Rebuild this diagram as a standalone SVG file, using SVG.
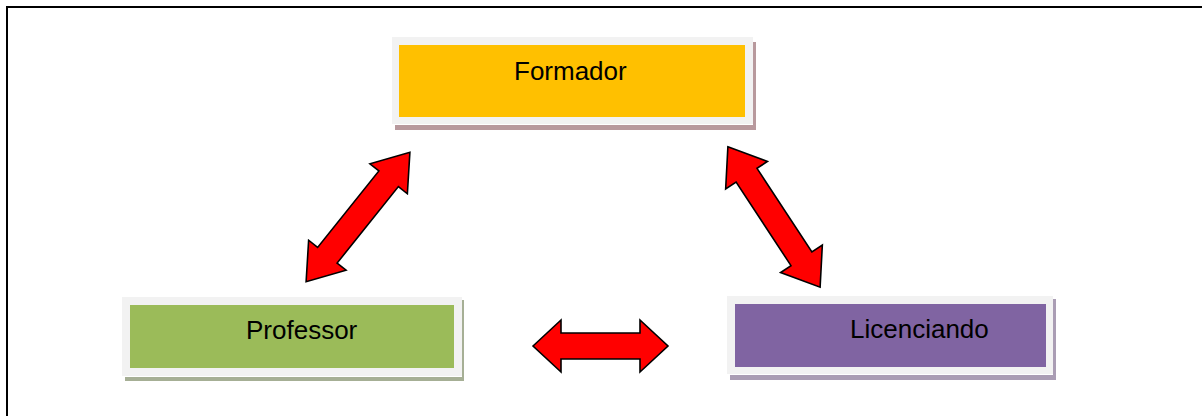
<svg xmlns="http://www.w3.org/2000/svg" width="1202" height="416" viewBox="0 0 1202 416">
  <style>
    .frame { fill: none; stroke: #000; stroke-width: 2; }
    .plate { fill: #f2f2f2; }
    .label { font-family: "Liberation Sans", Arial, sans-serif; font-size: 26px; fill: #000; }
    .arrow { fill: #ff0000; stroke: #000; stroke-width: 1.6; stroke-linejoin: miter; }
  </style>

  <rect width="1202" height="416" fill="#ffffff"/>
  <!-- page frame: top and left rules only -->
  <path class="frame" d="M7 416 V7 H1202"/>

  <!-- Formador -->
  <g id="formador">
    <rect x="395" y="42" width="361" height="88" fill="#b8999d"/>
    <rect x="393" y="37" width="360" height="88" fill="#ffffff"/>
    <rect class="plate" x="392" y="37" width="361" height="87"/>
    <rect x="399" y="45" width="346" height="72" fill="#ffc000"/>
    <text class="label" x="514" y="80">Formador</text>
  </g>

  <!-- Professor -->
  <g id="professor">
    <rect x="125" y="300" width="339" height="81" fill="#a6af95"/>
    <rect x="122" y="297" width="340" height="80" fill="#ffffff"/>
    <rect class="plate" x="122" y="297" width="340" height="79"/>
    <rect x="130" y="305" width="324" height="63" fill="#9bbb59"/>
    <text class="label" x="246" y="339">Professor</text>
  </g>

  <!-- Licenciando -->
  <g id="licenciando">
    <rect x="730" y="299" width="326" height="81" fill="#aa9db4"/>
    <rect x="727" y="296" width="326" height="79" fill="#ffffff"/>
    <rect class="plate" x="727" y="296" width="326" height="78"/>
    <rect x="735" y="304" width="311" height="63" fill="#8064a2"/>
    <text class="label" x="850" y="338">Licenciando</text>
  </g>

  <!-- double-headed block arrows -->
  <g id="connectors">
    <path class="arrow" transform="translate(358 217) rotate(-51.3)"
          d="M-83 0 L-49 -24 L-49 -12.5 L49 -12.5 L49 -24 L83 0 L49 24 L49 12.5 L-49 12.5 L-49 24 Z"/>
    <path class="arrow" transform="translate(774 217) rotate(56.7)"
          d="M-84 0 L-50 -25 L-50 -12.5 L50 -12.5 L50 -25 L84 0 L50 25 L50 12.5 L-50 12.5 L-50 25 Z"/>
    <path class="arrow" transform="translate(600.5 346)"
          d="M-67.5 0 L-39.5 -26 L-39.5 -13 L39.5 -13 L39.5 -26 L67.5 0 L39.5 26 L39.5 13 L-39.5 13 L-39.5 26 Z"/>
  </g>
</svg>
